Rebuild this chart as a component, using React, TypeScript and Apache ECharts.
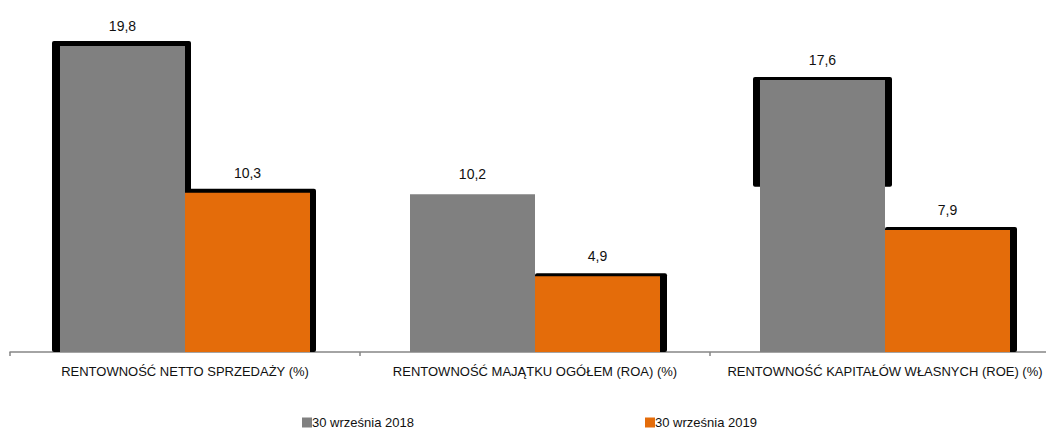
import React, { useEffect, useRef } from "react";
import * as echarts from "echarts";

const categories = [
  "RENTOWNOŚĆ NETTO SPRZEDAŻY (%)",
  "RENTOWNOŚĆ MAJĄTKU OGÓŁEM (ROA) (%)",
  "RENTOWNOŚĆ KAPITAŁÓW WŁASNYCH (ROE) (%)",
];
const series2018 = [19.8, 10.2, 17.6];
const series2019 = [10.3, 4.9, 7.9];
const seriesNames = ["30 września 2018", "30 września 2019"];

// black "3D" frame artefacts behind bars: [leftPx, rightPx, topPx, bottomValue] or null
const frame2018: (number[] | null)[] = [[8, 6, 5, 0], null, [7, 7, 3, 10.7]];
const frame2019: (number[] | null)[] = [[0, 6, 4, 0], [0, 7, 3, 0], [0, 7, 3, 0]];

const GRAY = "#808080";
const ORANGE = "#E46C0A";
const FONT = "'Liberation Sans', Arial, sans-serif";
const CAT_GAP = 0.2857;

function frameSeries(values: number[], frames: (number[] | null)[], side: number) {
  return {
    type: "custom",
    silent: true,
    z: 1,
    data: values.map((v, i) => [i, v]),
    renderItem: (params: any, api: any) => {
      const idx = api.value(0);
      const v = api.value(1);
      const f = frames[idx];
      if (!f) return null;
      const band = api.size([1, 0])[0];
      const barW = (band * (1 - CAT_GAP)) / 2;
      const c = api.coord([idx, v]);
      const b = api.coord([idx, f[3]]);
      const x0 = side < 0 ? c[0] - barW : c[0];
      return {
        type: "rect",
        shape: { x: x0 - f[0], y: c[1] - f[2], width: barW + f[0] + f[1], height: b[1] - c[1] + f[2], r: 2 },
        style: { fill: "#000" },
      };
    },
  };
}

export default function App() {
  const ref = useRef<HTMLDivElement>(null);
  useEffect(() => {
    document.body.style.margin = "0";
    document.body.style.overflow = "hidden";
    const chart = echarts.init(ref.current!, null, { renderer: "svg" });
    const label = {
      show: true,
      position: "top",
      distance: 13,
      color: "#111",
      fontFamily: FONT,
      fontSize: 14,
      formatter: (p: any) => String(p.value).replace(".", ","),
    };
    const legendBase = {
      top: 411,
      itemWidth: 10,
      itemHeight: 10,
      itemGap: 0,
      icon: "rect",
      textStyle: { color: "#111", fontFamily: FONT, fontSize: 13, padding: [0, 0, 0, -5] },
    };
    chart.setOption({
      animation: false,
      grid: { left: 10, top: 12, right: 0, height: 340 },
      xAxis: {
        type: "category",
        data: categories,
        axisLine: { lineStyle: { color: "#868686", width: 1.5 } },
        axisTick: { show: true, length: 4, lineStyle: { color: "#868686", width: 1.5 } },
        axisLabel: { margin: 13, interval: 0, color: "#111", fontFamily: FONT, fontSize: 13 },
      },
      yAxis: { type: "value", min: 0, max: 22, show: false, splitLine: { show: false } },
      legend: [
        { ...legendBase, data: [seriesNames[0]], left: 297 },
        { ...legendBase, data: [seriesNames[1]], left: 640 },
      ],
      series: [
        frameSeries(series2018, frame2018, -1),
        frameSeries(series2019, frame2019, 1),
        {
          name: seriesNames[0],
          type: "bar",
          z: 2,
          data: series2018,
          barGap: "0%",
          barCategoryGap: "28.57%",
          itemStyle: { color: GRAY },
          label,
        },
        {
          name: seriesNames[1],
          type: "bar",
          z: 2,
          data: series2019,
          itemStyle: { color: ORANGE },
          label,
        },
      ],
    });
    return () => chart.dispose();
  }, []);
  return <div ref={ref} style={{ width: 1060, height: 430 }} />;
}
